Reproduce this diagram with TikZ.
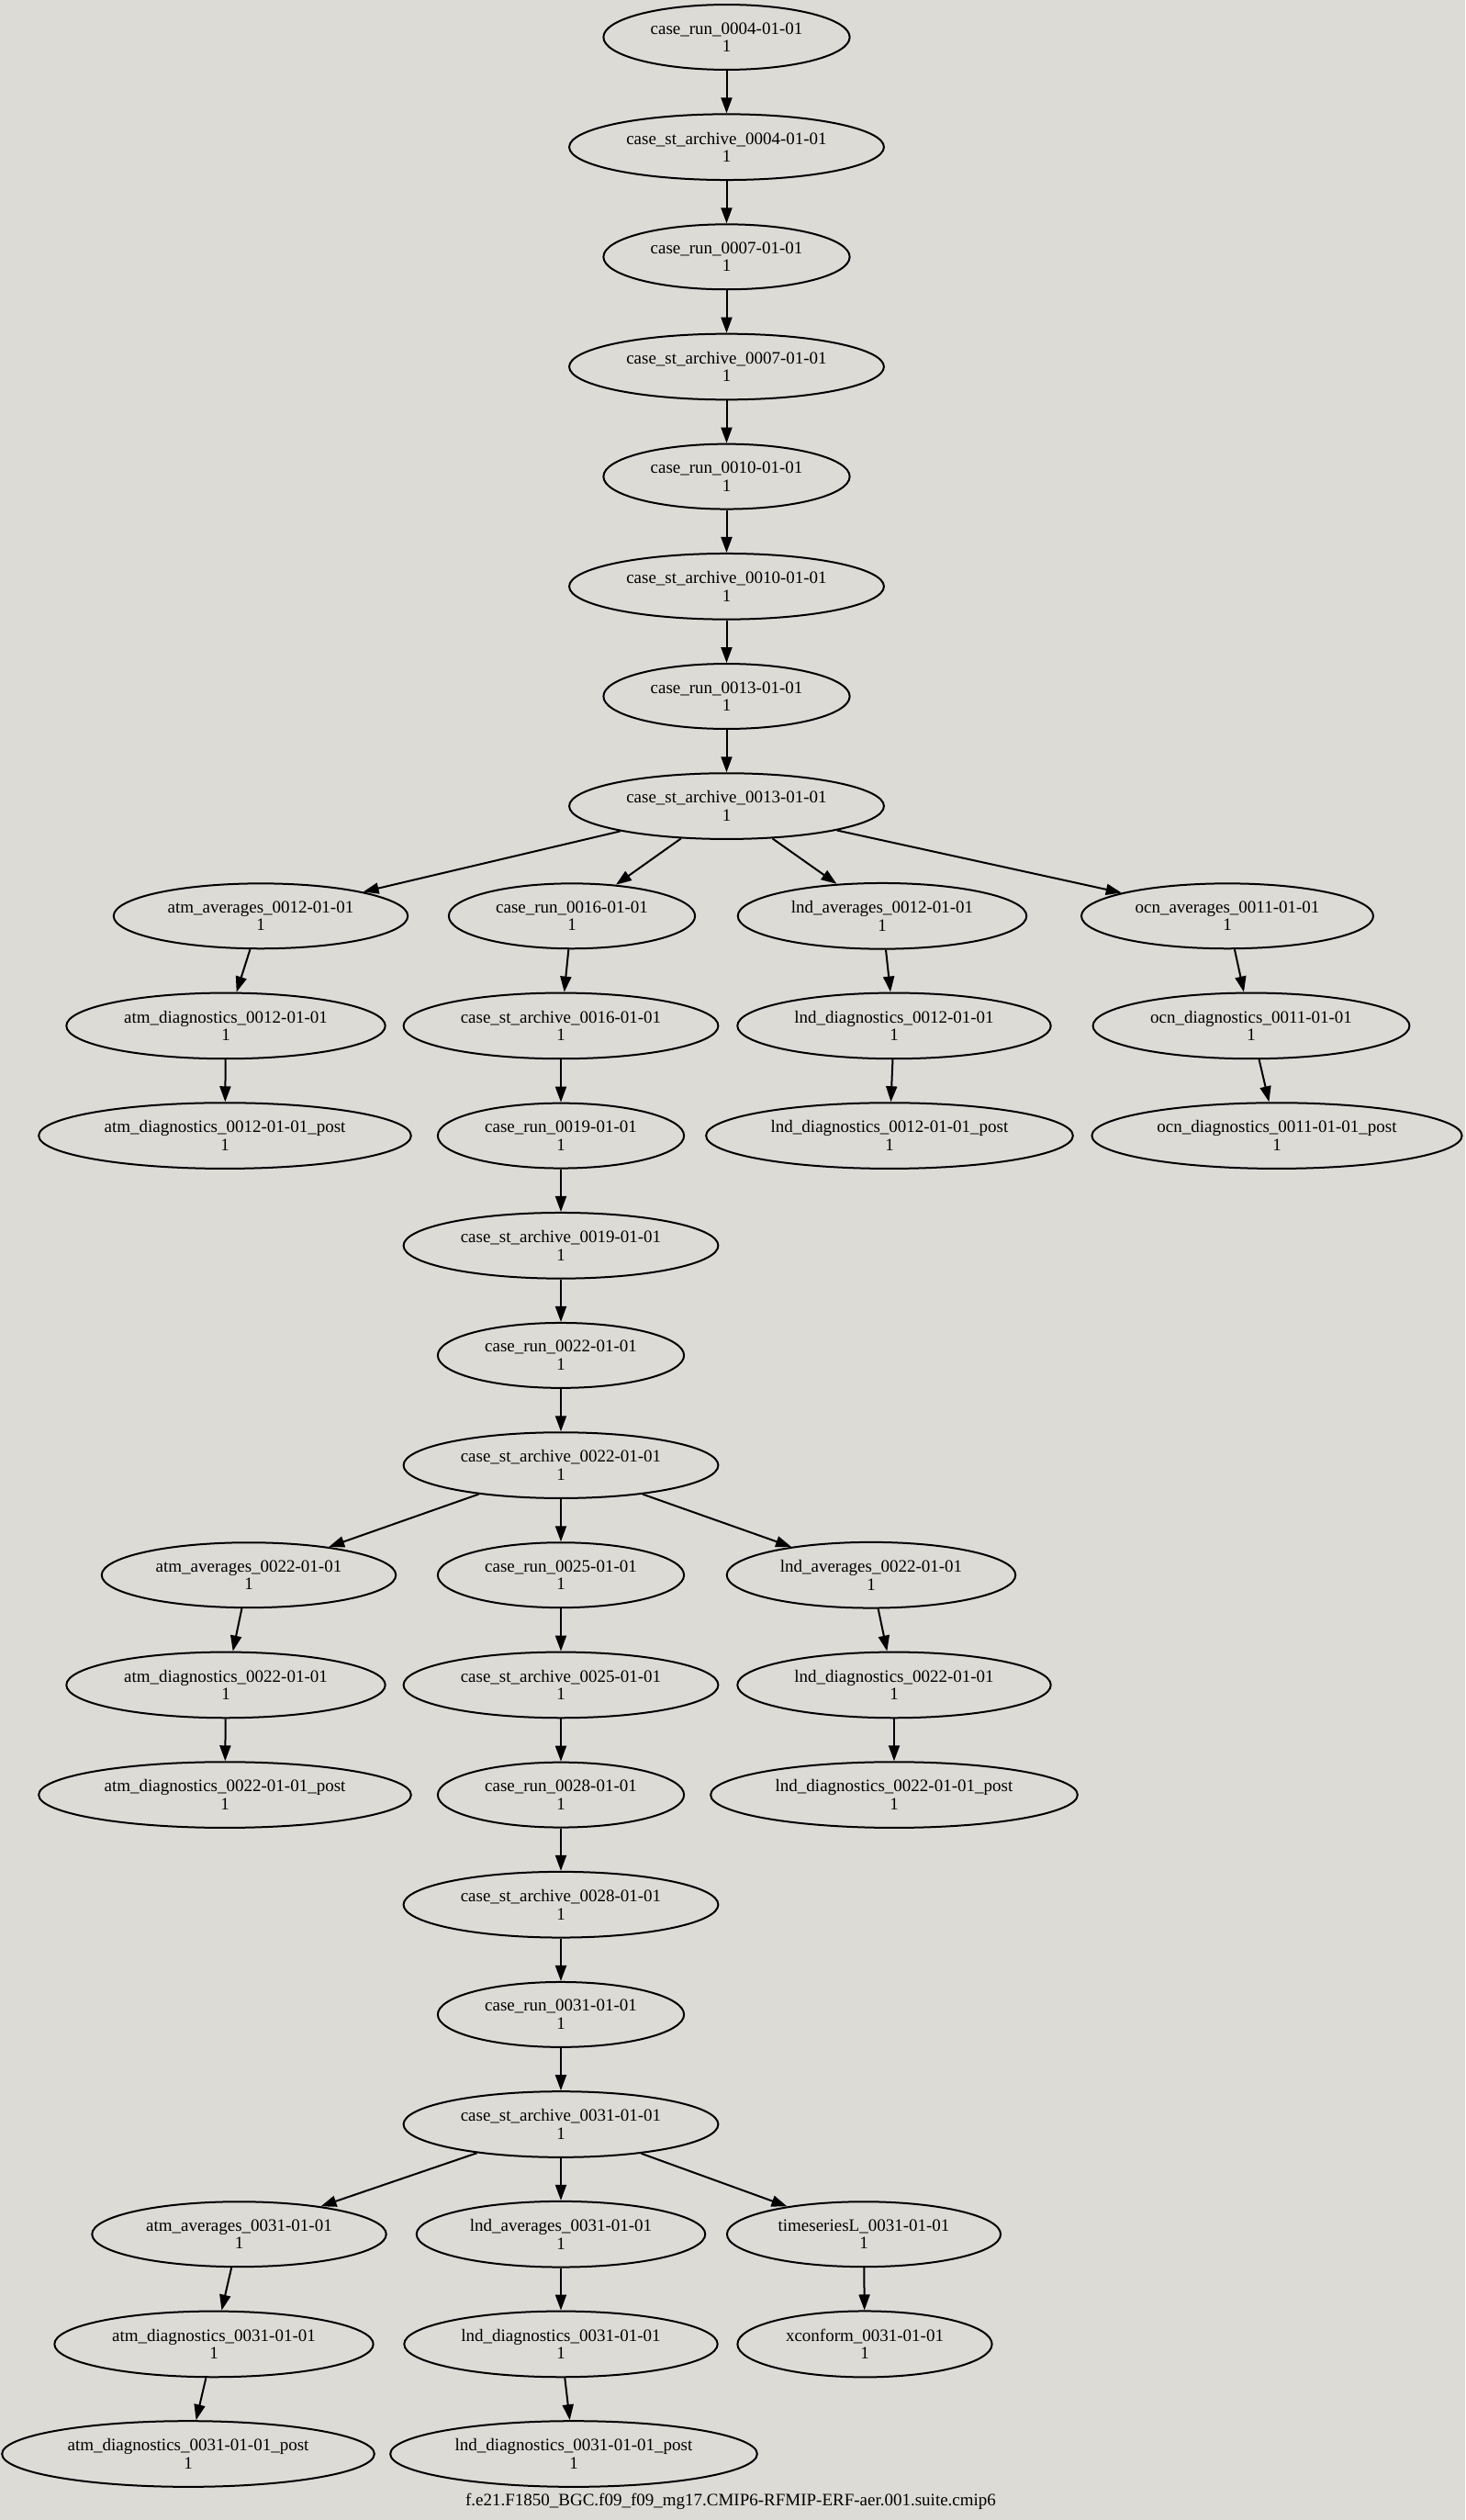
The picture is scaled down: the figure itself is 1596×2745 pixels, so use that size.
\documentclass[tikz,border=0pt]{standalone}
\usepackage{fontspec}
\setmainfont{Liberation Serif}
\usetikzlibrary{shapes.geometric,arrows.meta}
\definecolor{bgc}{RGB}{220,219,214}
\tikzset{every picture/.style={line width=2pt}}

\begin{document}
\begin{tikzpicture}[x=1pt,y=1pt,yscale=-1,xscale=1,
  job/.style={ellipse,draw,inner xsep=12pt,inner ysep=9pt,align=center,font=\fontsize{19}{19.5}\selectfont},
  dep/.style={-{Triangle[length=17pt,width=12pt]}}]
                  %set diagram size 1596 x 2745
                  \path [use as bounding box,fill=bgc] (0,0) rectangle (1596,2745);

                  % Text Node
                  \node [job] (run04) at (791.5,40.5) {case\_run\_0004-01-01\\1};
                  % Text Node
                  \node [job] (arc04) at (791.5,160.2) {case\_st\_archive\_0004-01-01\\1};
                  % Text Node
                  \node [job] (run07) at (791.5,279.8) {case\_run\_0007-01-01\\1};
                  % Text Node
                  \node [job] (arc07) at (791.5,399.5) {case\_st\_archive\_0007-01-01\\1};
                  % Text Node
                  \node [job] (run10) at (791.5,519.1) {case\_run\_0010-01-01\\1};
                  % Text Node
                  \node [job] (arc10) at (791.5,638.8) {case\_st\_archive\_0010-01-01\\1};
                  % Text Node
                  \node [job] (run13) at (791.5,758.5) {case\_run\_0013-01-01\\1};
                  % Text Node
                  \node [job] (arc13) at (791.5,878.1) {case\_st\_archive\_0013-01-01\\1};

                  % Text Node
                  \node [job] (atmavg12) at (284,997.8) {atm\_averages\_0012-01-01\\1};
                  % Text Node
                  \node [job] (atmdiag12) at (246,1117.4) {atm\_diagnostics\_0012-01-01\\1};
                  % Text Node
                  \node [job] (atmpost12) at (245,1237.1) {atm\_diagnostics\_0012-01-01\_post\\1};
                  % Text Node
                  \node [job] (run16) at (623,997.8) {case\_run\_0016-01-01\\1};
                  % Text Node
                  \node [job] (arc16) at (611,1117.4) {case\_st\_archive\_0016-01-01\\1};
                  % Text Node
                  \node [job] (run19) at (611,1237.1) {case\_run\_0019-01-01\\1};
                  % Text Node
                  \node [job] (lndavg12) at (961,997.8) {lnd\_averages\_0012-01-01\\1};
                  % Text Node
                  \node [job] (lnddiag12) at (974,1117.4) {lnd\_diagnostics\_0012-01-01\\1};
                  % Text Node
                  \node [job] (lndpost12) at (969,1237.1) {lnd\_diagnostics\_0012-01-01\_post\\1};
                  % Text Node
                  \node [job] (ocnavg11) at (1337,997.8) {ocn\_averages\_0011-01-01\\1};
                  % Text Node
                  \node [job] (ocndiag11) at (1363,1117.4) {ocn\_diagnostics\_0011-01-01\\1};
                  % Text Node
                  \node [job] (ocnpost11) at (1391,1237.1) {ocn\_diagnostics\_0011-01-01\_post\\1};

                  % Text Node
                  \node [job] (arc19) at (611,1356.8) {case\_st\_archive\_0019-01-01\\1};
                  % Text Node
                  \node [job] (run22) at (611,1476.4) {case\_run\_0022-01-01\\1};
                  % Text Node
                  \node [job] (arc22) at (611,1596.1) {case\_st\_archive\_0022-01-01\\1};

                  % Text Node
                  \node [job] (atmavg22) at (271,1715.7) {atm\_averages\_0022-01-01\\1};
                  % Text Node
                  \node [job] (atmdiag22) at (246,1835.4) {atm\_diagnostics\_0022-01-01\\1};
                  % Text Node
                  \node [job] (atmpost22) at (245,1955.1) {atm\_diagnostics\_0022-01-01\_post\\1};
                  % Text Node
                  \node [job] (run25) at (611,1715.7) {case\_run\_0025-01-01\\1};
                  % Text Node
                  \node [job] (arc25) at (611,1835.4) {case\_st\_archive\_0025-01-01\\1};
                  % Text Node
                  \node [job] (run28) at (611,1955.1) {case\_run\_0028-01-01\\1};
                  % Text Node
                  \node [job] (lndavg22) at (949,1715.7) {lnd\_averages\_0022-01-01\\1};
                  % Text Node
                  \node [job] (lnddiag22) at (974,1835.4) {lnd\_diagnostics\_0022-01-01\\1};
                  % Text Node
                  \node [job] (lndpost22) at (974,1955.1) {lnd\_diagnostics\_0022-01-01\_post\\1};

                  % Text Node
                  \node [job] (arc28) at (611,2074.7) {case\_st\_archive\_0028-01-01\\1};
                  % Text Node
                  \node [job] (run31) at (611,2194.4) {case\_run\_0031-01-01\\1};
                  % Text Node
                  \node [job] (arc31) at (611,2314.0) {case\_st\_archive\_0031-01-01\\1};

                  % Text Node
                  \node [job] (atmavg31) at (260.5,2433.7) {atm\_averages\_0031-01-01\\1};
                  % Text Node
                  \node [job] (atmdiag31) at (233,2553.4) {atm\_diagnostics\_0031-01-01\\1};
                  % Text Node
                  \node [job] (atmpost31) at (205,2673.0) {atm\_diagnostics\_0031-01-01\_post\\1};
                  % Text Node
                  \node [job] (lndavg31) at (611,2433.7) {lnd\_averages\_0031-01-01\\1};
                  % Text Node
                  \node [job] (lnddiag31) at (611,2553.4) {lnd\_diagnostics\_0031-01-01\\1};
                  % Text Node
                  \node [job] (lndpost31) at (625,2673.0) {lnd\_diagnostics\_0031-01-01\_post\\1};
                  % Text Node
                  \node [job] (ts31) at (941,2433.7) {timeseriesL\_0031-01-01\\1};
                  % Text Node
                  \node [job] (xconf31) at (942,2553.4) {xconform\_0031-01-01\\1};

                  % Text Node
                  \node [font=\fontsize{19}{19.5}\selectfont] (suite) at (796,2725) {f.e21.F1850\_BGC.f09\_f09\_mg17.CMIP6-RFMIP-ERF-aer.001.suite.cmip6};

                  %Straight Lines
                  \draw [dep] (run04) -- (arc04) ;
                  \draw [dep] (arc04) -- (run07) ;
                  \draw [dep] (run07) -- (arc07) ;
                  \draw [dep] (arc07) -- (run10) ;
                  \draw [dep] (run10) -- (arc10) ;
                  \draw [dep] (arc10) -- (run13) ;
                  \draw [dep] (run13) -- (arc13) ;
                  %Straight Lines
                  \draw [dep] (arc13) -- (atmavg12) ;
                  \draw [dep] (arc13) -- (run16) ;
                  \draw [dep] (arc13) -- (lndavg12) ;
                  \draw [dep] (arc13) -- (ocnavg11) ;
                  \draw [dep] (atmavg12) -- (atmdiag12) ;
                  \draw [dep] (atmdiag12) -- (atmpost12) ;
                  \draw [dep] (lndavg12) -- (lnddiag12) ;
                  \draw [dep] (lnddiag12) -- (lndpost12) ;
                  \draw [dep] (ocnavg11) -- (ocndiag11) ;
                  \draw [dep] (ocndiag11) -- (ocnpost11) ;
                  %Straight Lines
                  \draw [dep] (run16) -- (arc16) ;
                  \draw [dep] (arc16) -- (run19) ;
                  \draw [dep] (run19) -- (arc19) ;
                  \draw [dep] (arc19) -- (run22) ;
                  \draw [dep] (run22) -- (arc22) ;
                  %Straight Lines
                  \draw [dep] (arc22) -- (atmavg22) ;
                  \draw [dep] (arc22) -- (run25) ;
                  \draw [dep] (arc22) -- (lndavg22) ;
                  \draw [dep] (atmavg22) -- (atmdiag22) ;
                  \draw [dep] (atmdiag22) -- (atmpost22) ;
                  \draw [dep] (lndavg22) -- (lnddiag22) ;
                  \draw [dep] (lnddiag22) -- (lndpost22) ;
                  %Straight Lines
                  \draw [dep] (run25) -- (arc25) ;
                  \draw [dep] (arc25) -- (run28) ;
                  \draw [dep] (run28) -- (arc28) ;
                  \draw [dep] (arc28) -- (run31) ;
                  \draw [dep] (run31) -- (arc31) ;
                  %Straight Lines
                  \draw [dep] (arc31) -- (atmavg31) ;
                  \draw [dep] (arc31) -- (lndavg31) ;
                  \draw [dep] (arc31) -- (ts31) ;
                  \draw [dep] (atmavg31) -- (atmdiag31) ;
                  \draw [dep] (atmdiag31) -- (atmpost31) ;
                  \draw [dep] (lndavg31) -- (lnddiag31) ;
                  \draw [dep] (lnddiag31) -- (lndpost31) ;
                  \draw [dep] (ts31) -- (xconf31) ;

              \end{tikzpicture}
\end{document}
